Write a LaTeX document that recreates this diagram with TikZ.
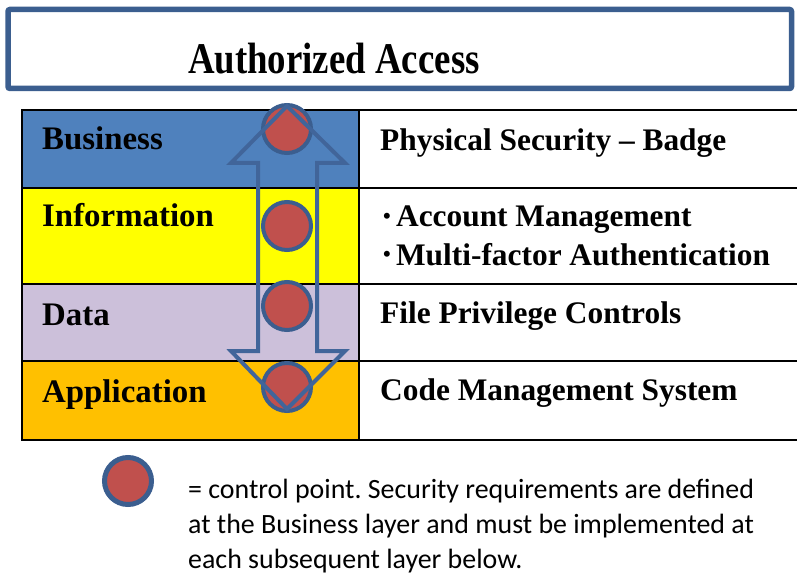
\documentclass[tikz,border=0pt]{standalone}
\usepackage{fontspec}
\setmainfont{Liberation Serif}
\newfontfamily\notefont{Carlito}
\usepackage{xcolor}
\usepackage{graphicx}
\usetikzlibrary{positioning, calc}
\definecolor{laFrame}{RGB}{59, 94, 143}
\definecolor{laArrow}{RGB}{65, 101, 154}
\definecolor{laBusiness}{RGB}{79, 129, 189}
\definecolor{laInfo}{RGB}{255, 255, 0}
\definecolor{laData}{RGB}{204, 192, 218}
\definecolor{laApp}{RGB}{255, 192, 0}
\definecolor{laPoint}{RGB}{192, 80, 77}
\newcommand{\smallbullet}{\raisebox{0.12em}{\fontsize{22}{22}\selectfont\textbullet}}
\frenchspacing
\tikzset{
    frame/.style={
        draw=laFrame,
        line width=5.5bp,
        rounded corners=2bp
    },
    grid/.style={
        draw=black,
        line width=2.2bp
    },
    heading/.style={
        anchor=base west,
        inner sep=0pt,
        font=\fontsize{44}{48}\selectfont\bfseries
    },
    layertext/.style={
        anchor=base west,
        inner sep=0pt,
        font=\fontsize{33}{36}\selectfont\bfseries
    },
    measuretext/.style={
        layertext,
        font=\fontsize{31.5}{36}\selectfont\bfseries
    },
    control/.style={
        circle,
        draw=laFrame,
        line width=4bp,
        fill=laPoint,
        minimum size=48bp,
        inner sep=0pt
    },
    updown/.style={
        draw=laArrow,
        line width=4bp,
        line join=miter
    },
    note/.style={
        anchor=base west,
        inner sep=0pt,
        font=\notefont\fontsize{28}{30}\selectfont
    }
}

\begin{document}
\begin{tikzpicture}[x=1bp, y=-1bp]
  \useasboundingbox (0,0) rectangle (797,576);

  % Heading
  \draw[frame] (8,9.5) rectangle (791.5,88.5);
  \node[heading] (title) at (188,74) {\scalebox{0.84}[1]{Authorized Access}};

  % Layers
  \fill[laBusiness] (22,110) rectangle (359,188);
  \fill[laInfo] (22,188) rectangle (359,284);
  \fill[laData] (22,284) rectangle (359,361);
  \fill[laApp] (22,361) rectangle (359,440);
  \draw[grid] (22,110) rectangle (802,440);
  \draw[grid] (359,110) -- (359,440);
  \foreach \y in {188,284,361}
    \draw[grid] (22,\y) -- (802,\y);

  \node[layertext] (business) at (42,150) {Business};
  \node[layertext] (information) at (42,227) {Information};
  \node[layertext] (data) at (42,325) {Data};
  \node[layertext] (application) at (42,402) {Application};

  \node[measuretext] (badge) at (380,151) {Physical Security -- Badge};
  \node[measuretext] (account) at (383,227) {\smallbullet\,Account Management};
  \node[measuretext] (mfa) at (383,265) {\smallbullet\,Multi-factor Authentication};
  \node[measuretext] (files) at (380,323) {File Privilege Controls};
  \node[measuretext] (code) at (380,400) {Code Management System};

  % Control points
  \node[control] (p1) at (287,129) {};
  \node[control] (p2) at (287,226) {};
  \node[control] (p3) at (287,306) {};
  \node[control] (p4) at (287,387) {};

  % Double arrow over the points
  \draw[updown] (287,106) -- (345,163) -- (317,163) -- (317,351)
    -- (345,351) -- (287,409) -- (231,351) -- (258,351) -- (258,163)
    -- (231,163) -- cycle;

  % Key
  \node[control, line width=5bp, minimum size=47bp] (key) at (128,481) {};
  \node[note] (key1) at (188,498) {= control point. Security requirements are defined};
  \node[note] (key2) at (188,533) {at the Business layer and must be implemented at};
  \node[note] (key3) at (188,568) {each subsequent layer below.};
\end{tikzpicture}
\end{document}
